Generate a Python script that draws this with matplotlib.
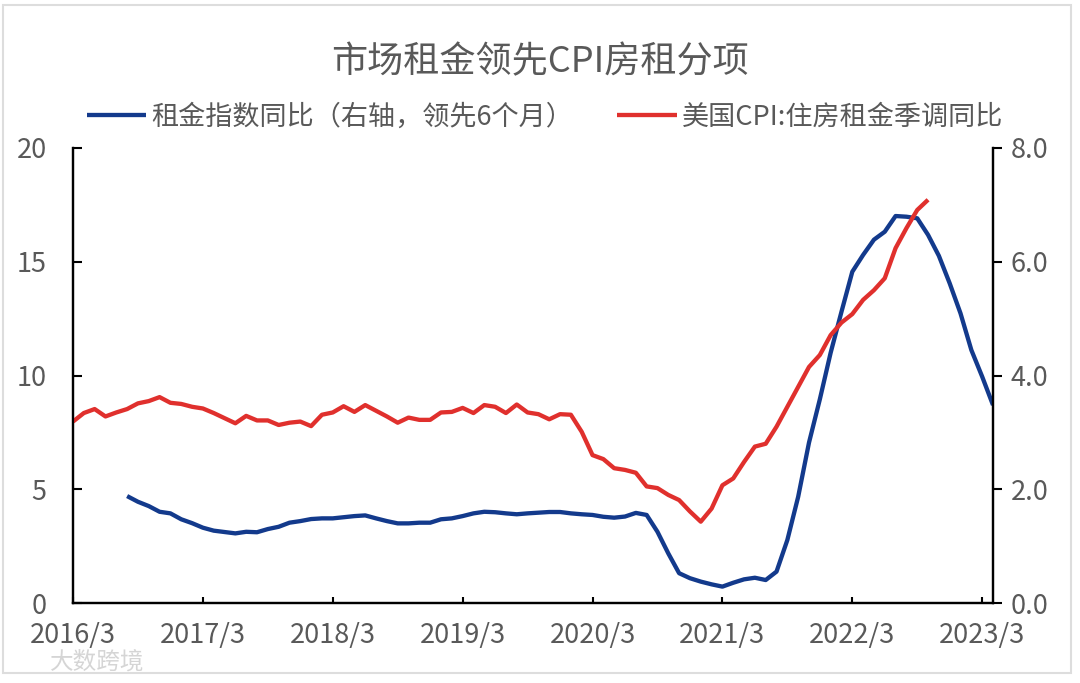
import numpy as np
import matplotlib
matplotlib.use("Agg")
import matplotlib.pyplot as plt
from matplotlib.patches import Rectangle

plt.rcParams['font.family'] = ['Noto Sans CJK SC', 'DejaVu Sans']

# month index 0 = 2016/3
tick_labels = ['2016/3', '2017/3', '2018/3', '2019/3', '2020/3', '2021/3', '2022/3', '2023/3']

# 租金指数同比 (left scale), 2016/8 .. 2023/4
rent_start = 5
rent_index = [4.70, 4.45, 4.26, 4.01, 3.94, 3.68, 3.51, 3.31, 3.18, 3.12,
              3.06, 3.13, 3.11, 3.25, 3.35, 3.53, 3.60, 3.69, 3.72, 3.72,
              3.77, 3.82, 3.85, 3.72, 3.60, 3.50, 3.50, 3.53, 3.53, 3.68,
              3.72, 3.82, 3.94, 4.01, 3.99, 3.94, 3.90, 3.94, 3.97, 4.00,
              4.00, 3.94, 3.90, 3.87, 3.79, 3.75, 3.80, 3.96, 3.87, 3.13,
              2.18, 1.31, 1.09, 0.94, 0.82, 0.72, 0.89, 1.04, 1.11, 1.01,
              1.38, 2.77, 4.67, 7.05, 8.95, 11.0, 12.8, 14.56, 15.30, 15.97,
              16.32, 17.01, 16.98, 16.91, 16.18, 15.26, 14.05, 12.73, 11.12, 9.95,
              8.70]

# 美国CPI:住房租金季调同比 (right scale), 2016/3 .. 2022/10
cpi_rent = [3.19, 3.34, 3.41, 3.28, 3.35, 3.41, 3.51, 3.55, 3.62, 3.52,
            3.50, 3.45, 3.42, 3.34, 3.25, 3.16, 3.29, 3.21, 3.21, 3.13,
            3.17, 3.19, 3.11, 3.31, 3.35, 3.46, 3.36, 3.48, 3.38, 3.28,
            3.17, 3.26, 3.22, 3.22, 3.35, 3.36, 3.43, 3.34, 3.48, 3.45,
            3.34, 3.49, 3.35, 3.32, 3.23, 3.32, 3.31, 3.01, 2.60, 2.53,
            2.37, 2.34, 2.29, 2.05, 2.02, 1.90, 1.81, 1.61, 1.43, 1.66,
            2.07, 2.19, 2.48, 2.75, 2.80, 3.10, 3.45, 3.80, 4.15, 4.36,
            4.71, 4.93, 5.08, 5.33, 5.50, 5.71, 6.24, 6.59, 6.91, 7.09]

blue = '#133a8c'
red = '#e0302d'
grey = '#595959'

fig = plt.figure(figsize=(10.8, 6.83), dpi=100)
ax = fig.add_axes([73 / 1080, 1 - 603 / 683, 920 / 1080, 455 / 683])
ax2 = ax.twinx()

x_rent = np.arange(rent_start, rent_start + len(rent_index))
x_cpi = np.arange(len(cpi_rent))
l1, = ax.plot(x_rent, rent_index, color=blue, lw=3.1, solid_capstyle='butt')
l2, = ax2.plot(x_cpi, cpi_rent, color=red, lw=3.1, solid_capstyle='butt')

ax.set_xlim(0, 85)
ax.set_ylim(0, 20)
ax2.set_ylim(0, 8)
ax.set_xticks(np.arange(0, 85, 12))
ax.set_xticklabels(tick_labels)
ax.set_yticks([0, 5, 10, 15, 20])
ax2.set_yticks([0, 2, 4, 6, 8])
ax2.set_yticklabels(['0.0', '2.0', '4.0', '6.0', '8.0'])

for a in (ax, ax2):
    a.spines['top'].set_visible(False)
    for s in ('left', 'right', 'bottom'):
        a.spines[s].set_linewidth(1.6)
        a.spines[s].set_color('black')

ax.tick_params(axis='y', direction='in', length=6.5, width=1.5, labelsize=19.5,
               labelcolor=grey, pad=19)
ax.tick_params(axis='x', direction='in', length=4.5, width=1.5, labelsize=19.5,
               labelcolor=grey, pad=14)
ax2.tick_params(axis='y', direction='out', length=6.5, width=1.5, labelsize=19.5,
                labelcolor=grey, pad=6)

fig.text(540 / 1080, 1 - 62 / 683, '市场租金领先CPI房租分项', ha='center', va='center',
         fontsize=26, color=grey)

fig.legend([l1, l2], ['租金指数同比（右轴，领先6个月）', '美国CPI:住房租金季调同比'],
           loc='center', bbox_to_anchor=(545 / 1080, 1 - 117 / 683), ncol=2,
           frameon=False, fontsize=19.5, handlelength=2.2, handletextpad=0.2,
           columnspacing=1.6, labelcolor=grey, borderaxespad=0, borderpad=0)

fig.text(50 / 1080, 1 - 662 / 683, '大数跨境', ha='left', va='center',
         fontsize=17, color='#d5d5d5')

fig.patches.append(Rectangle((3 / 1080, 1 - 673 / 683), 1068 / 1080, 668 / 683,
                             transform=fig.transFigure, fill=False,
                             edgecolor='#dddddd', lw=1.5))

fig.savefig('out.png', dpi=100)
